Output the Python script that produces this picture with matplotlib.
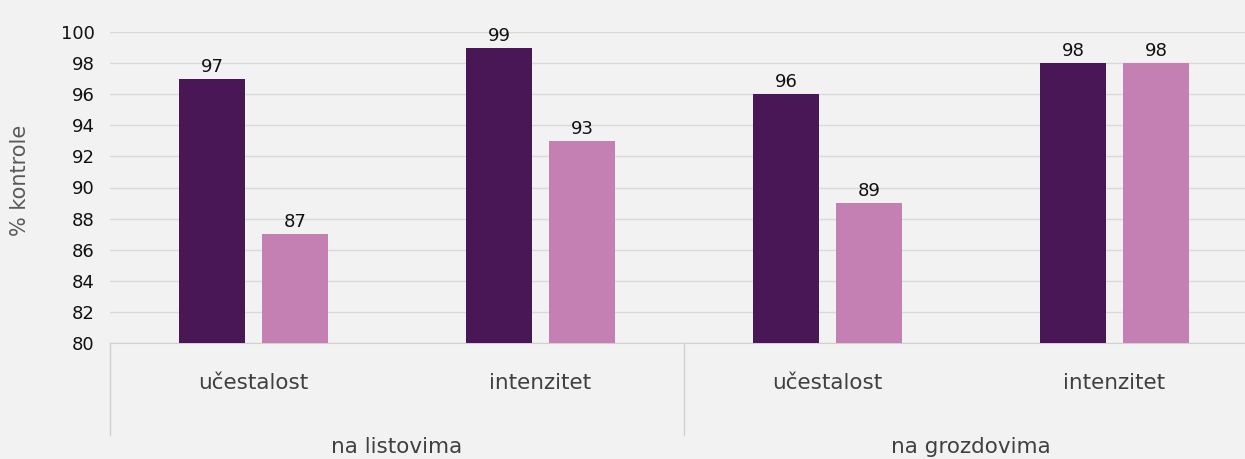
import matplotlib.pyplot as plt
import matplotlib.transforms as mtransforms

# data
categories = ['učestalost', 'intenzitet', 'učestalost', 'intenzitet']
groups = ['na listovima', 'na grozdovima']
series_a = [97, 99, 96, 98]
series_b = [87, 93, 89, 98]
yticks = [80, 82, 84, 86, 88, 90, 92, 94, 96, 98, 100]

plt.rcParams['font.family'] = ['DejaVu Sans']

bg = '#f2f2f2'
dark = '#4a1756'
pink = '#c47fb3'

fig = plt.figure(figsize=(12.45, 4.59), dpi=100, facecolor=bg)
ax = fig.add_axes([110 / 1245, 1 - 343 / 459, 1148 / 1245, 311 / 459], facecolor=bg)

x = list(range(len(categories)))
w = 0.2265
off = 0.1446
bars_a = ax.bar([i - off for i in x], [v - 80 for v in series_a], w, bottom=80, color=dark, zorder=3)
bars_b = ax.bar([i + off for i in x], [v - 80 for v in series_b], w, bottom=80, color=pink, zorder=3)

for bars, vals in ((bars_a, series_a), (bars_b, series_b)):
    for b, v in zip(bars, vals):
        ax.annotate(str(v), (b.get_x() + b.get_width() / 2, v), xytext=(0, 2),
                    textcoords='offset points', ha='center', va='bottom',
                    fontsize=13, color='#111111')

ax.set_xlim(-0.5, 3.5)
ax.set_ylim(80, 100)
ax.set_yticks(yticks)
ax.tick_params(axis='y', length=0, pad=11, labelsize=13, labelcolor='#111111')
ax.set_xticks([])
ax.grid(axis='y', color='#d9d9d9', linewidth=1, zorder=0)
for s in ['top', 'right', 'left']:
    ax.spines[s].set_visible(False)
ax.spines['bottom'].set_color('#d0d0d0')

trans = mtransforms.blended_transform_factory(ax.transData, ax.transAxes)
for i, c in enumerate(categories):
    ax.text(i, -0.129, c, transform=trans, ha='center', va='center',
            fontsize=15.5, color='#404040')
for g, name in enumerate(groups):
    ax.text(2 * g + 0.5, -0.334, name, transform=trans, ha='center', va='center',
            fontsize=15.5, color='#404040')
for xs in (-0.5, 1.5, 3.5):
    ax.plot([xs, xs], [0, -0.296], transform=trans, color='#d0d0d0',
            linewidth=1, clip_on=False)

ax.text(-0.078, 0.524, '% kontrole', transform=ax.transAxes, rotation=90,
        ha='center', va='center', fontsize=15, color='#595959')

fig.savefig('out.png', dpi=100, facecolor=bg)
